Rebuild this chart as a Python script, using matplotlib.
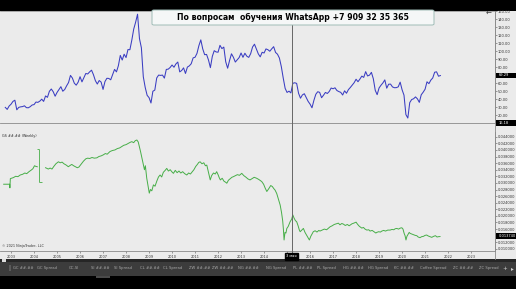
import numpy as np
import pandas as pd
import matplotlib
matplotlib.use("Agg")
import matplotlib.pyplot as plt
from matplotlib.patches import Rectangle, FancyBboxPatch
from matplotlib.lines import Line2D

W, H = 516, 289

# upper panel: weekly close, sampled per month (Oct 2002 .. Sep 2021)
oil_start = "2002-10"
oil_close = [
    29.5, 27.0, 31.2,
    33.5, 37.0, 38.5, 26.5, 29.5, 30.2, 30.5, 31.5, 29.2, 29.0, 30.4, 32.5,
    33.0, 36.2, 35.8, 37.3, 39.8, 37.0, 43.8, 42.1, 49.6, 52.5, 49.1, 43.5,
    48.2, 51.8, 55.4, 49.7, 51.9, 56.5, 60.6, 69.5, 66.2, 59.8, 57.3, 61.0,
    67.9, 61.4, 66.6, 71.9, 71.3, 73.9, 76.0, 70.3, 62.9, 58.7, 63.1, 61.1,
    52.0, 61.8, 65.9, 65.7, 64.0, 70.7, 77.0, 73.9, 81.7, 94.5, 88.7, 96.0,
    91.8, 101.8, 101.6, 113.5, 127.4, 136.0, 146.0, 115.5, 104.0, 67.8, 54.4, 44.6,
    41.7, 35.0, 49.7, 51.1, 66.3, 69.9, 69.5, 69.9, 66.1, 77.0, 77.3, 79.4,
    82.5, 79.7, 83.8, 86.2, 73.9, 75.6, 78.9, 71.9, 79.9, 81.4, 84.1, 91.4,
    92.2, 97.0, 106.7, 113.9, 102.7, 95.4, 95.7, 88.8, 79.2, 93.2, 100.4, 98.8,
    98.5, 107.1, 103.0, 104.9, 86.5, 78.5, 88.1, 96.5, 92.2, 86.2, 88.9, 91.8,
    97.5, 92.1, 97.2, 93.5, 92.0, 96.6, 105.0, 108.5, 102.3, 96.4, 92.7, 98.4,
    97.5, 102.6, 101.6, 99.7, 102.7, 105.4, 98.2, 96.0, 91.2, 80.5, 66.2, 53.3,
    48.2, 49.8, 47.6, 59.6, 60.3, 59.5, 47.1, 41.0, 45.1, 46.6, 41.7, 37.0,
    33.6, 29.0, 38.3, 45.9, 49.1, 48.3, 41.6, 44.7, 48.2, 46.9, 49.4, 53.7,
    52.8, 54.0, 50.6, 49.3, 48.3, 45.0, 50.2, 47.2, 51.7, 54.4, 57.4, 60.4,
    64.7, 61.6, 64.9, 68.6, 67.0, 74.2, 68.8, 69.8, 73.3, 65.3, 50.9, 45.4,
    53.8, 57.2, 60.1, 63.9, 53.5, 58.5, 58.6, 55.1, 54.1, 54.2, 55.2, 61.1,
    51.6, 44.8, 20.5, 16.18, 35.5, 39.3, 40.3, 42.6, 40.2, 35.8, 45.3, 48.5,
    52.2, 61.5, 59.2, 63.6, 66.3, 73.5, 73.95, 68.5, 69.29,
]

# lower panel "GS ##.## (Weekly)": first piece, odd bar, then the rest
gs_a_t = [2002.68, 2002.94, 2002.95, 2002.97, 2003.10, 2003.20, 2003.30, 2003.40,
          2003.50, 2003.60, 2003.68, 2003.78, 2003.88, 2003.95, 2004.02, 2004.08, 2004.14]
gs_a_v = [0.0296, 0.0296, 0.0285, 0.0313, 0.0316, 0.0320, 0.0319, 0.0324,
          0.0326, 0.0330, 0.0328, 0.0334, 0.0339, 0.0343, 0.0352, 0.0350, 0.0349]

gs_bar_t = 2004.23
gs_bar_open = 0.0403
gs_bar_close = 0.0302

gs_b = [
    (2004.50, 0.0346), (2004.56, 0.0344), (2004.62, 0.0342), (2004.70, 0.0345), (2004.78, 0.0342),
    (2004.86, 0.0350), (2004.95, 0.0358), (2005.06, 0.0364), (2005.14, 0.0361), (2005.22, 0.0363),
    (2005.30, 0.0358), (2005.40, 0.0354), (2005.49, 0.0349), (2005.57, 0.0353), (2005.64, 0.0356),
    (2005.72, 0.0352), (2005.80, 0.0349), (2005.88, 0.0346), (2005.95, 0.0348), (2006.05, 0.0357),
    (2006.15, 0.0366), (2006.25, 0.0373), (2006.33, 0.0375), (2006.42, 0.0374), (2006.52, 0.0377),
    (2006.62, 0.0375), (2006.73, 0.0376), (2006.82, 0.0380), (2006.92, 0.0382), (2007.01, 0.0385),
    (2007.10, 0.0389), (2007.18, 0.0387), (2007.30, 0.0395), (2007.40, 0.0398), (2007.52, 0.0400),
    (2007.62, 0.0404), (2007.72, 0.0406), (2007.81, 0.0410), (2007.90, 0.0414), (2008.00, 0.0416),
    (2008.10, 0.0420), (2008.18, 0.0423), (2008.25, 0.0425), (2008.33, 0.0422), (2008.40, 0.0428),
    (2008.47, 0.0430), (2008.53, 0.0424), (2008.58, 0.0410), (2008.63, 0.0395), (2008.70, 0.0372),
    (2008.75, 0.0354), (2008.80, 0.0340), (2008.84, 0.0352), (2008.90, 0.0314), (2008.96, 0.0290),
    (2009.01, 0.0269), (2009.06, 0.0280), (2009.12, 0.0276), (2009.19, 0.0294), (2009.26, 0.0290),
    (2009.34, 0.0306), (2009.41, 0.0318), (2009.48, 0.0324), (2009.55, 0.0318), (2009.62, 0.0332),
    (2009.70, 0.0338), (2009.77, 0.0344), (2009.84, 0.0336), (2009.92, 0.0340), (2010.00, 0.0333),
    (2010.06, 0.0329), (2010.14, 0.0338), (2010.22, 0.0331), (2010.30, 0.0336), (2010.38, 0.0330),
    (2010.46, 0.0334), (2010.55, 0.0328), (2010.64, 0.0324), (2010.72, 0.0330), (2010.80, 0.0327),
    (2010.88, 0.0334), (2010.95, 0.0340), (2011.03, 0.0350), (2011.10, 0.0356), (2011.16, 0.0362),
    (2011.22, 0.0364), (2011.30, 0.0358), (2011.38, 0.0361), (2011.45, 0.0352), (2011.51, 0.0354),
    (2011.57, 0.0336), (2011.62, 0.0320), (2011.66, 0.0309), (2011.72, 0.0322), (2011.80, 0.0330),
    (2011.88, 0.0327), (2011.94, 0.0334), (2012.00, 0.0325), (2012.05, 0.0316), (2012.10, 0.0309),
    (2012.18, 0.0314), (2012.26, 0.0305), (2012.33, 0.0302), (2012.38, 0.0299), (2012.45, 0.0308),
    (2012.52, 0.0312), (2012.60, 0.0317), (2012.67, 0.0319), (2012.75, 0.0322), (2012.84, 0.0325),
    (2012.93, 0.0323), (2013.03, 0.0329), (2013.12, 0.0322), (2013.20, 0.0318), (2013.30, 0.0312),
    (2013.39, 0.0309), (2013.48, 0.0313), (2013.57, 0.0317), (2013.68, 0.0314), (2013.78, 0.0310),
    (2013.90, 0.0304), (2013.98, 0.0296), (2014.05, 0.0284), (2014.12, 0.0274), (2014.20, 0.0282),
    (2014.29, 0.0292), (2014.36, 0.0289), (2014.42, 0.0283), (2014.48, 0.0278), (2014.55, 0.0268),
    (2014.62, 0.0252), (2014.70, 0.0233), (2014.76, 0.0210), (2014.81, 0.0185), (2014.84, 0.0160),
    (2014.87, 0.0127), (2014.91, 0.0150), (2014.95, 0.0148), (2014.99, 0.0162), (2015.05, 0.0168),
    (2015.13, 0.0182), (2015.20, 0.0190), (2015.25, 0.0203), (2015.30, 0.0194), (2015.36, 0.0186),
    (2015.42, 0.0182), (2015.48, 0.0170), (2015.53, 0.0158), (2015.57, 0.0152), (2015.64, 0.0157),
    (2015.71, 0.0162), (2015.78, 0.0150), (2015.86, 0.0140), (2015.92, 0.0133), (2015.97, 0.0127),
    (2016.03, 0.0138), (2016.09, 0.0146), (2016.14, 0.0152), (2016.22, 0.0155), (2016.30, 0.0151),
    (2016.38, 0.0156), (2016.43, 0.0154), (2016.52, 0.0157), (2016.62, 0.0160), (2016.72, 0.0158),
    (2016.80, 0.0163), (2016.87, 0.0167), (2016.96, 0.0170), (2017.05, 0.0174), (2017.14, 0.0176),
    (2017.23, 0.0178), (2017.30, 0.0173), (2017.38, 0.0177), (2017.45, 0.0175), (2017.53, 0.0171),
    (2017.62, 0.0174), (2017.70, 0.0170), (2017.74, 0.0172), (2017.82, 0.0176), (2017.90, 0.0178),
    (2018.00, 0.0181), (2018.05, 0.0176), (2018.12, 0.0170), (2018.17, 0.0167), (2018.25, 0.0163),
    (2018.32, 0.0165), (2018.39, 0.0160), (2018.47, 0.0157), (2018.55, 0.0158), (2018.61, 0.0154),
    (2018.70, 0.0156), (2018.78, 0.0152), (2018.86, 0.0148), (2018.90, 0.0150), (2018.98, 0.0152),
    (2019.06, 0.0151), (2019.12, 0.0154), (2019.20, 0.0156), (2019.28, 0.0154), (2019.38, 0.0157),
    (2019.48, 0.0157), (2019.56, 0.0159), (2019.64, 0.0158), (2019.70, 0.0161), (2019.77, 0.0162),
    (2019.85, 0.0160), (2019.92, 0.0163), (2019.99, 0.0164), (2020.04, 0.0160), (2020.09, 0.0147),
    (2020.13, 0.0140), (2020.17, 0.0127), (2020.21, 0.0138), (2020.26, 0.0144), (2020.31, 0.0150),
    (2020.35, 0.0147), (2020.42, 0.0145), (2020.50, 0.0143), (2020.57, 0.0141), (2020.64, 0.0140),
    (2020.70, 0.0136), (2020.78, 0.0134), (2020.85, 0.0137), (2020.93, 0.0138), (2021.00, 0.0141),
    (2021.07, 0.0142), (2021.14, 0.0139), (2021.21, 0.0137), (2021.29, 0.0135), (2021.37, 0.0138),
    (2021.45, 0.0140), (2021.52, 0.0136), (2021.58, 0.0137), (2021.65, 0.01374),
]

years = list(range(2003, 2024))
top_ticks = list(range(20, 151, 10))
bot_ticks = [0.010, 0.012, 0.014, 0.016, 0.018, 0.020, 0.022, 0.024, 0.026,
             0.028, 0.030, 0.032, 0.034, 0.036, 0.038, 0.040, 0.042, 0.044]

tabs = ["GC ##.##", "GC Spread", "GC-SI", "SI ##.##", "SI Spread", "CL ##.##",
        "CL Spread", "ZW ##.##", "ZW ##.##", "NG ##.##", "NG Spread", "PL ##.##",
        "PL Spread", "HG ##.##", "HG Spread", "KC ##.##", "Coffee Spread",
        "ZC ##.##", "ZC Spread"]
tab_x = [23, 47, 74, 100, 123, 150, 173, 200, 223, 248, 276, 303, 326, 353,
         378, 404, 433, 463, 489]

watermark = "По вопросам  обучения WhatsApp +7 909 32 35 365"
cursor_date = "3 мая"
cursor_year = 2015.2

BG = "#ebebeb"
BLUE = "#3a3dc2"
GREEN = "#47ae48"


def fx(px):
    return px / W


def fy(py):
    return 1 - py / H


fig = plt.figure(figsize=(W / 100, H / 100), dpi=100, facecolor="black")

# chart background, toolbar
fig.patches.append(Rectangle((0, fy(259)), 1, fy(11) - fy(259), transform=fig.transFigure,
                             facecolor=BG, edgecolor="none", zorder=0))
fig.patches.append(Rectangle((0, fy(262)), 1, fy(259) - fy(262), transform=fig.transFigure,
                             facecolor="#262626", edgecolor="none", zorder=0))
fig.patches.append(Rectangle((0, fy(276)), 1, fy(262) - fy(276), transform=fig.transFigure,
                             facecolor="#3c3c3c", edgecolor="none", zorder=0))

xmin, xmax = 2002.52, 2024.04

ax1 = fig.add_axes([0, fy(123), fx(495), (123 - 11) / H], zorder=2)
ax2 = fig.add_axes([0, fy(251), fx(495), (251 - 131.7) / H], zorder=2)

oil_dates = pd.date_range(oil_start, periods=len(oil_close), freq="MS")
oil_t = oil_dates.year + (oil_dates.month - 1) / 12
ax1.plot(oil_t, oil_close, color=BLUE, lw=0.75)
ax1.set_ylim(10, 150)

ax2.plot(gs_a_t, gs_a_v, color=GREEN, lw=0.7)
ax2.vlines(gs_bar_t, gs_bar_close, gs_bar_open, color=GREEN, lw=0.6)
ax2.hlines(gs_bar_open, gs_bar_t - 0.08, gs_bar_t, color=GREEN, lw=0.6)
ax2.hlines(gs_bar_close, gs_bar_t, gs_bar_t + 0.12, color=GREEN, lw=0.6)
gs_b_t = [p[0] for p in gs_b]
gs_b_v = [p[1] for p in gs_b]
ax2.plot(gs_b_t, gs_b_v, color=GREEN, lw=0.7)
ax2.set_ylim(0.00936, 0.04552)

for ax in (ax1, ax2):
    ax.set_facecolor(BG)
    ax.set_xlim(xmin, xmax)
    for s in ax.spines.values():
        s.set_color("#8a8a8a")
        s.set_linewidth(0.6)
    ax.spines["left"].set_visible(False)
    ax.spines["top"].set_visible(False)
    ax.yaxis.tick_right()
    ax.tick_params(axis="y", direction="out", length=1.1, width=0.4, pad=1.0,
                   labelsize=2.6, colors="#555555", labelcolor="#333333")

ax1.set_xticks([])
ax1.set_yticks(top_ticks)
ax1.set_yticklabels([f"{v:.2f}" for v in top_ticks])
ax2.set_yticks(bot_ticks)
ax2.set_yticklabels([f"{v:.6f}" for v in bot_ticks])
ax2.set_xticks(years)
ax2.set_xticklabels([str(y) if y != 2015 else "" for y in years])
ax2.tick_params(axis="x", direction="out", length=1.2, width=0.4, pad=1.5,
                labelsize=2.5, colors="#555555", labelcolor="#333333")

# frame lines
fig.lines.append(Line2D([0, fx(495)], [fy(11.3), fy(11.3)], transform=fig.transFigure,
                        color="#8a8a8a", lw=0.5, zorder=3))
fig.lines.append(Line2D([fx(495), fx(495)], [fy(11), fy(259)], transform=fig.transFigure,
                        color="#8a8a8a", lw=0.6, zorder=3))

# crosshair
cx = (cursor_year - xmin) / (xmax - xmin) * 495
fig.lines.append(Line2D([fx(cx), fx(cx)], [fy(11), fy(253)], transform=fig.transFigure,
                        color="#666666", lw=0.7, zorder=4))
fig.text(fx(cx), fy(256.3), cursor_date, color="white", fontsize=2.6, ha="center", va="center",
         zorder=6, bbox=dict(boxstyle="square,pad=0.35", facecolor="black", edgecolor="black"))

# value markers on the price axes
for py, txt in [(75.3, "69.29"), (122.7, "16.18"), (235.7, "0.013740")]:
    fig.patches.append(Rectangle((fx(496), fy(py + 2.8)), fx(20), 5.6 / H,
                                 transform=fig.transFigure, facecolor="black",
                                 edgecolor="none", zorder=5))
    fig.text(fx(499), fy(py), txt, color="white", fontsize=2.6, ha="left", va="center",
             zorder=6)

# texts inside panels
fig.text(fx(2), fy(136), "GS ##.## (Weekly)", fontsize=2.4, color="#222222", va="center",
         zorder=6)
fig.text(fx(2), fy(245.5), "© 2021 NinjaTrader, LLC", fontsize=2.4, color="#333333",
         va="center", zorder=6)
fig.text(fx(489), fy(13.5), "←", fontsize=5, color="#333333", ha="center", va="center",
         zorder=6)

# watermark box
fig.patches.append(FancyBboxPatch((fx(152), fy(25)), fx(282), 15 / H,
                                  boxstyle="round,pad=0,rounding_size=0.004",
                                  transform=fig.transFigure, facecolor="#f5f7f7",
                                  edgecolor="#9fbcb7", lw=0.7, zorder=7))
fig.text(fx(292.5), fy(17.8), watermark, fontsize=5.6, fontweight="bold",
         color="black", ha="center", va="center", zorder=8)

# bottom tab strip
fig.patches.append(Rectangle((fx(2), fy(262)), fx(4), 3 / H, transform=fig.transFigure,
                             facecolor="#dddddd", edgecolor="none", zorder=3))
fig.patches.append(Rectangle((fx(9), fy(271)), fx(2), 6 / H, transform=fig.transFigure,
                             facecolor="#5a5a5a", edgecolor="none", zorder=3))
for x, t in zip(tab_x, tabs):
    fig.text(fx(x), fy(268.3), t, fontsize=2.7, color="#a9a9a9", ha="center", va="center",
             zorder=6)
fig.text(fx(505), fy(268.3), "+", fontsize=4, color="#cfcfcf", ha="center", va="center",
         zorder=6)
fig.text(fx(512), fy(268.3), "▸", fontsize=4, color="#cfcfcf", ha="center", va="center",
         zorder=6)
fig.patches.append(Rectangle((fx(96), fy(277.5)), fx(14), 1.5 / H, transform=fig.transFigure,
                             facecolor="#4a4a4a", edgecolor="none", zorder=3))

fig.savefig("out.png", dpi=100, facecolor="black")
